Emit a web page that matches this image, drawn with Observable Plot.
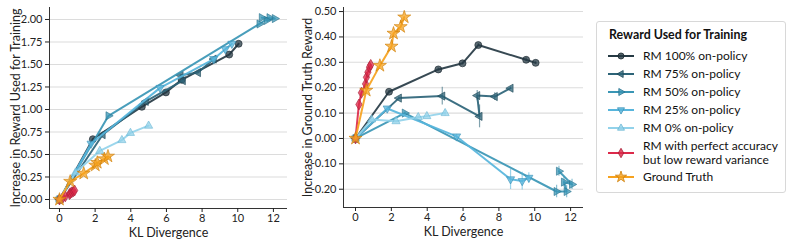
<!DOCTYPE html>
<html>
<head>
<meta charset="utf-8">
<script src="https://cdn.jsdelivr.net/npm/d3@7"></script>
<script src="https://cdn.jsdelivr.net/npm/@observablehq/plot@0.6"></script>
<style>
  body { margin: 0; background: #fff; font-family: Lato, "Noto Sans", sans-serif; }
  #wrap { position: relative; width: 793px; height: 246px; overflow: hidden; }
  #left, #right { position: absolute; top: 0; }
  #left { left: 0; }
  #right { left: 290px; }
  #legend { position: absolute; left: 596px; top: 21px; width: 190px; height: 172px;
    border: 1px solid #d8d8d8; border-radius: 3px; box-sizing: border-box; color: #111; }
  #legend .title { position: absolute; left: 12px; top: 5px; font-weight: bold; font-size: 12.4px; white-space: nowrap; }
  #legend .row { position: absolute; left: 10px; height: 18px; display: flex; align-items: center; font-size: 12px; line-height: 12px; white-space: nowrap; }
  #legend .row svg { margin-right: 8px; flex: none; }
  #legend .two { display: flex; flex-direction: column; }
  #legend .two span { display: block; height: 14px; line-height: 14px; }
</style>
</head>
<body>
<div id="wrap">
  <div id="left"></div>
  <div id="right"></div>
  <div id="legend"></div>
</div>
<script>
// ---- data ----
const seriesNames = ["RM 100% on-policy", "RM 75% on-policy", "RM 50% on-policy", "RM 25% on-policy", "RM 0% on-policy", "RM with perfect accuracy\nbut low reward variance", "Ground Truth"];

const kl100 = [0, 1.87, 4.62, 5.97, 6.85, 9.52, 10.05];
const train100 = [0, 0.67, 1.03, 1.19, 1.33, 1.61, 1.73];
const gt100 = [0, 0.184, 0.272, 0.296, 0.368, 0.31, 0.298];
const err100 = [0, 0.005, 0.006, 0.006, 0.006, 0.008, 0.006];

const kl75 = [0, 2.42, 4.84, 6.92, 6.79, 7.77, 8.65];
const train75 = [0, 0.72, 1.09, 1.32, 1.38, 1.41, 1.56];
const gt75 = [0, 0.159, 0.167, 0.087, 0.169, 0.165, 0.198];
const err75 = [0, 0.005, 0.035, 0.045, 0.02, 0.015, 0.005];

const kl50 = [0, 2.75, 11.22, 11.78, 11.63, 12.08, 11.35];
const train50 = [0, 0.93, 1.95, 2.02, 1.99, 2.01, 2.02];
const gt50 = [0, 0.10, -0.209, -0.209, -0.172, -0.181, -0.129];
const err50 = [0, 0.005, 0.025, 0.025, 0.02, 0.02, 0.02];

const kl25 = [0, 1.77, 5.64, 8.65, 9.3, 9.67];
const train25 = [0, 0.62, 1.24, 1.56, 1.67, 1.73];
const gt25 = [0, 0.118, 0.008, -0.161, -0.168, -0.155];
const err25 = [0, 0.005, 0.008, 0.04, 0.035, 0.02];

const kl0 = [0, 0.9, 2.26, 3.5, 3.98, 5.0];
const train0 = [0, 0.3, 0.54, 0.66, 0.74, 0.82];
const gt0 = [0, 0.075, 0.068, 0.084, 0.088, 0.100];
const err0 = [0, 0.004, 0.004, 0.004, 0.004, 0.012];

const klR = [0, 0.19, 0.33, 0.56, 0.61, 0.69, 0.78, 0.85];
const trainR = [0, 0.02, 0.035, 0.06, 0.07, 0.08, 0.09, 0.10];
const gtR = [0, 0.134, 0.18, 0.215, 0.241, 0.261, 0.281, 0.29];
const errR = [0, 0, 0, 0, 0, 0, 0, 0];

const klG = [0, 0.6, 1.36, 2.01, 2.12, 2.52, 2.72];
const trainG = [0, 0.2, 0.29, 0.38, 0.41, 0.45, 0.48];
const gtG = [0, 0.189, 0.287, 0.363, 0.414, 0.44, 0.478];
const errG = [0, 0, 0, 0, 0, 0, 0];

const leftTicksY = [0, 0.25, 0.5, 0.75, 1.0, 1.25, 1.5, 1.75, 2.0];
const rightTicksY = [-0.2, -0.1, 0, 0.1, 0.2, 0.3, 0.4, 0.5];
const ticksX = [0, 2, 4, 6, 8, 10, 12];

// ---- styling ----
const colors = ["#263a44", "#2d6478", "#3a96b5", "#57b5dc", "#92d2ea", "#dc2a4a", "#f6a21e"];
const edge   = ["#1a282f", "#1f4a59", "#2a7490", "#3d93b8", "#6fb9d6", "#a81c35", "#cf7f08"];

function tri(angleDeg) {
  const a = angleDeg * Math.PI / 180, c = Math.cos(a), s = Math.sin(a);
  return {
    draw(ctx, size) {
      const r = Math.sqrt(size) * 0.62;
      const pts = [[0, -r * 1.15], [r, r * 0.62], [-r, r * 0.62]];
      pts.forEach(([x, y], i) => {
        const X = x * c - y * s, Y = x * s + y * c;
        i ? ctx.lineTo(X, Y) : ctx.moveTo(X, Y);
      });
      ctx.closePath();
    }
  };
}
const symbols = ["circle", tri(-90), tri(90), tri(180), tri(0), "diamond", "star"];
const radii = [3.5, 3.7, 3.7, 3.7, 3.7, 3.3, 4.1];

const series = [
  {kl: kl100, tr: train100, gt: gt100, err: err100},
  {kl: kl75, tr: train75, gt: gt75, err: err75},
  {kl: kl50, tr: train50, gt: gt50, err: err50},
  {kl: kl25, tr: train25, gt: gt25, err: err25},
  {kl: kl0, tr: train0, gt: gt0, err: err0},
  {kl: klR, tr: trainR, gt: gtR, err: errR},
  {kl: klG, tr: trainG, gt: gtG, err: errG}
];

function rows(i, key) {
  const s = series[i];
  return s.kl.map((k, j) => ({x: k, y: s[key][j], e: key === "gt" ? s.err[j] : 0}));
}

function seriesMarks(key) {
  const marks = [];
  series.forEach((s, i) => {
    const data = rows(i, key);
    if (key === "gt") {
      marks.push(Plot.ruleX(data.filter(d => d.e > 0.003), {x: "x", y1: d => d.y - d.e, y2: d => d.y + d.e,
        stroke: colors[i], strokeWidth: 1.2, strokeOpacity: 0.6}));
    }
    marks.push(Plot.line(data, {x: "x", y: "y", stroke: colors[i], strokeWidth: 2, strokeOpacity: 0.92}));
    marks.push(Plot.dot(data, {x: "x", y: "y", symbol: symbols[i], r: radii[i], fill: colors[i],
      fillOpacity: 0.75, stroke: edge[i], strokeWidth: 0.8, strokeOpacity: 0.8}));
  });
  return marks;
}

const fmt = d => d.toFixed(2);
const baseStyle = {fontFamily: "Lato, 'Noto Sans', sans-serif", fontSize: "11px", color: "#222", background: "#fff", overflow: "visible"};

function axisLabelY(text, offset) {
  return Plot.axisY([], {label: text, labelAnchor: "center", labelArrow: "none", labelOffset: offset, fontSize: 12.5, tickSize: 0});
}

const xLeft = [-0.56, 12.79], yLeft = [-0.1, 2.133];
const left = Plot.plot({
  width: 290, height: 246,
  marginLeft: 49, marginRight: 3, marginTop: 7, marginBottom: 38,
  style: baseStyle,
  x: {domain: xLeft},
  y: {domain: yLeft},
  marks: [
    Plot.gridY(leftTicksY, {stroke: "#dcdcdc", strokeOpacity: 1, strokeWidth: 1.1}),
    ...seriesMarks("tr"),
    Plot.ruleX([xLeft[0]], {stroke: "#333", strokeWidth: 1}),
    Plot.ruleY([yLeft[0]], {stroke: "#333", strokeWidth: 1}),
    Plot.axisY(leftTicksY, {tickFormat: fmt, tickSize: 4, tickPadding: 3, label: null, fontSize: 11}),
    axisLabelY("Increase in Reward Used for Training", 38),
    Plot.axisX(ticksX, {tickSize: 4, tickPadding: 2, label: null, fontSize: 11}),
    Plot.axisX([], {label: "KL Divergence", labelAnchor: "center", labelArrow: "none", labelOffset: 28, fontSize: 12.5, tickSize: 0})
  ]
});

const xRight = [-0.67, 12.72], yRight = [-0.272, 0.516];
const right = Plot.plot({
  width: 300, height: 246,
  marginLeft: 53, marginRight: 7, marginTop: 7, marginBottom: 39,
  style: baseStyle,
  x: {domain: xRight},
  y: {domain: yRight},
  marks: [
    Plot.gridY(rightTicksY, {stroke: "#dcdcdc", strokeOpacity: 1, strokeWidth: 1.1}),
    ...seriesMarks("gt"),
    Plot.ruleX([xRight[0]], {stroke: "#333", strokeWidth: 1}),
    Plot.ruleY([yRight[0]], {stroke: "#333", strokeWidth: 1}),
    Plot.axisY(rightTicksY, {tickFormat: fmt, tickSize: 4, tickPadding: 3, label: null, fontSize: 11}),
    axisLabelY("Increase in Ground Truth Reward", 40),
    Plot.axisX(ticksX, {tickSize: 4, tickPadding: 2, label: null, fontSize: 11}),
    Plot.axisX([], {label: "KL Divergence", labelAnchor: "center", labelArrow: "none", labelOffset: 28, fontSize: 12.5, tickSize: 0})
  ]
});

document.getElementById("left").appendChild(left);
document.getElementById("right").appendChild(right);

// ---- legend ----
const lg = document.getElementById("legend");
const t = document.createElement("div");
t.className = "title"; t.textContent = "Reward Used for Training";
lg.appendChild(t);
const rowTops = [25, 43, 61, 79, 97, 117, 146];
const symPath = i => {
  const sym = typeof symbols[i] === "string"
    ? ({circle: d3.symbolCircle, diamond: d3.symbolDiamond, star: d3.symbolStar})[symbols[i]]
    : symbols[i];
  return d3.symbol(sym, radii[i] * radii[i] * Math.PI * 0.75)();
};
seriesNames.forEach((name, i) => {
  const r = document.createElement("div");
  r.className = "row";
  r.style.top = rowTops[i] + "px";
  const lines = name.split("\n");
  if (lines.length > 1) r.style.height = "28px";
  const ns = "http://www.w3.org/2000/svg";
  const svg = document.createElementNS(ns, "svg");
  svg.setAttribute("width", 28); svg.setAttribute("height", 12);
  const ln = document.createElementNS(ns, "line");
  ln.setAttribute("x1", 1); ln.setAttribute("x2", 27); ln.setAttribute("y1", 6); ln.setAttribute("y2", 6);
  ln.setAttribute("stroke", colors[i]); ln.setAttribute("stroke-width", 2);
  svg.appendChild(ln);
  const p = document.createElementNS(ns, "path");
  p.setAttribute("d", symPath(i)); p.setAttribute("transform", "translate(14,6)");
  p.setAttribute("fill", colors[i]); p.setAttribute("fill-opacity", 0.8);
  p.setAttribute("stroke", edge[i]); p.setAttribute("stroke-width", 0.8);
  svg.appendChild(p);
  r.appendChild(svg);
  const box = document.createElement("div");
  box.className = lines.length > 1 ? "two" : "";
  lines.forEach(l => {
    const sp = document.createElement("span");
    sp.textContent = l;
    box.appendChild(sp);
  });
  r.appendChild(box);
  lg.appendChild(r);
});
</script>
</body>
</html>
